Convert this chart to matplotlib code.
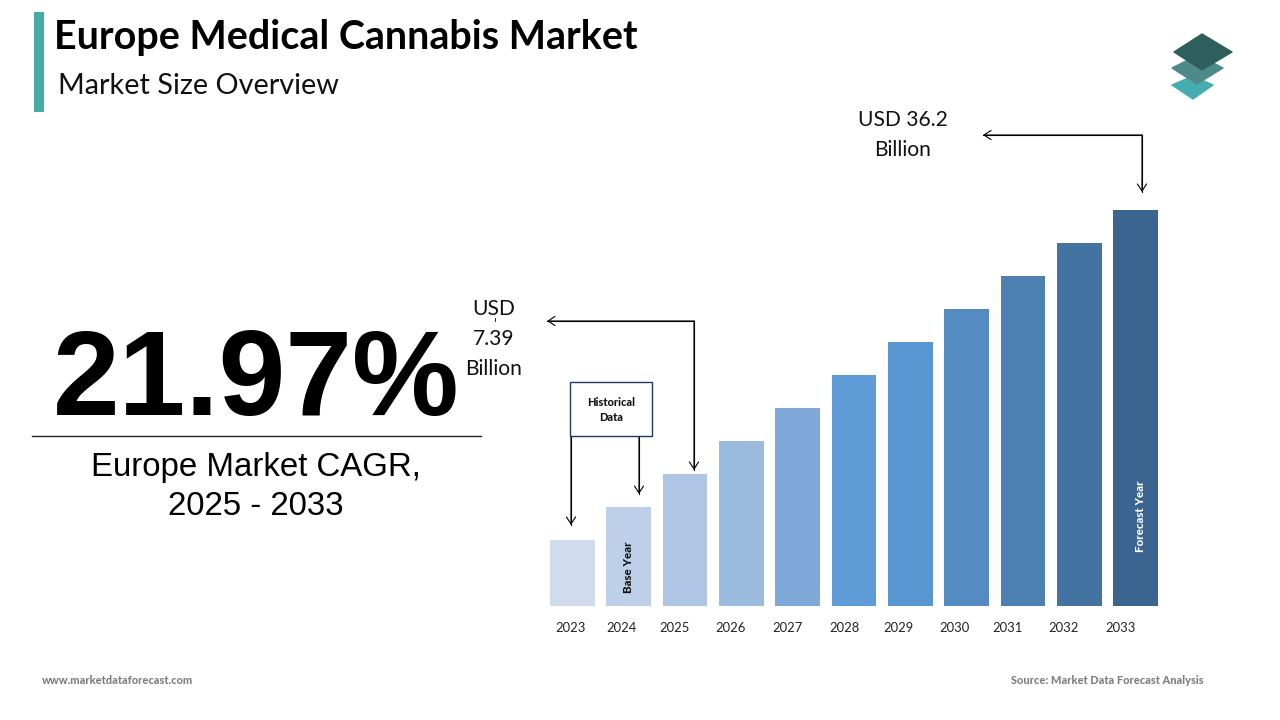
import matplotlib
matplotlib.use("Agg")
import matplotlib.pyplot as plt
from matplotlib.patches import Polygon, Rectangle, FancyArrowPatch
from matplotlib.lines import Line2D

years = ["2023", "2024", "2025", "2026", "2027", "2028", "2029", "2030", "2031", "2032", "2033"]
# Relative bar heights as drawn (the chart is illustrative, not to scale with the USD labels)
bar_heights = [66, 99, 132, 165, 198, 231, 264, 297, 330, 363, 396]
bar_colors = ["#d0dcee", "#bed0e9", "#aec6e4", "#9abade", "#7ea9d9", "#5f9bd6",
              "#5995d0", "#548bc0", "#4d81b1", "#4373a0", "#3b6590"]
year_label_x = [571, 621, 674, 731, 787, 844, 898, 954, 1008, 1064, 1121]
title = "Europe Medical Cannabis Market"
subtitle = "Market Size Overview"
cagr = "21.97%"
cagr_label = "Europe Market CAGR,\n2025 - 2033"

W, H = 1280, 720
fig = plt.figure(figsize=(12.8, 7.2), dpi=100, facecolor="white")
px = 0.72  # points per pixel

# Overlay in pixel coordinates
ov = fig.add_axes([0, 0, 1, 1], zorder=3)
ov.set_xlim(0, W); ov.set_ylim(H, 0); ov.axis("off"); ov.patch.set_alpha(0)

# Bars
x0, x1 = 550, 1158
ax = fig.add_axes([x0 / W, (H - 606) / H, (x1 - x0) / W, 400 / H], zorder=1)
xs = list(range(len(years)))
ax.bar(xs, bar_heights, width=0.79, color=bar_colors, linewidth=0)
ax.set_xlim(-0.395, 10.395)
ax.set_ylim(0, 400)
ax.axis("off")

for yr, cx in zip(years, year_label_x):
    ov.text(cx, 628, yr, ha="center", va="center",
            fontsize=13 * px, family="Lato", color="#222222")

# Header
ov.add_patch(Rectangle((34, 12), 10, 100, fc="#45ada8", ec="none"))
ov.text(54, 38, title, ha="left", va="center", fontsize=39.5 * px, family="Lato",
        fontweight="bold", color="black")
ov.text(58, 86, subtitle, ha="left", va="center", fontsize=28.9 * px, family="Lato", color="#111111")

# Logo
for pts, col in [([(1172, 85), (1193, 76), (1213, 85), (1193, 99)], "#45adb0"),
                 ([(1172, 68), (1198, 55), (1223, 68), (1197, 84)], "#4f8a8a"),
                 ([(1174, 52), (1202, 34), (1232, 52), (1202, 70)], "#2f5f5c")]:
    ov.add_patch(Polygon(pts, fc=col, ec=col, lw=1.0, joinstyle="round"))

# CAGR block
ov.text(256, 383, cagr, ha="center", va="center", fontsize=120 * px, family="Liberation Sans",
        fontweight="bold", color="black")
ov.add_line(Line2D([32, 481], [436, 436], color="#222222", lw=1))
ov.text(256, 487, cagr_label, ha="center", va="center", fontsize=33 * px, family="Liberation Sans",
        color="black", linespacing=1.36)

# Value labels
ov.text(903, 135, "USD 36.2\nBillion", ha="center", va="center", fontsize=21 * px, family="Lato",
        color="#111111", linespacing=1.6)
ov.text(494, 339, "USD\n7.39\nBillion", ha="center", va="center", fontsize=21 * px, family="Lato",
        color="#111111", linespacing=1.6)
ov.add_line(Line2D([494.5, 494.5], [318, 321], color="#333333", lw=0.7))

# Connectors
def head(p_from, p_to):
    ov.add_patch(FancyArrowPatch(p_from, p_to, arrowstyle="->,head_length=2.3,head_width=1.5",
                                 color="black", lw=0.8, shrinkA=0, shrinkB=0, mutation_scale=2.2))

def connector(points, both=False):
    xs_, ys_ = zip(*points)
    ov.add_line(Line2D(xs_, ys_, color="black", lw=0.8))
    head(points[-2], points[-1])
    if both:
        head(points[1], points[0])

connector([(983, 135), (1142, 135), (1142, 192)], both=True)
connector([(547, 321), (694, 321), (694, 470)], both=True)
connector([(571, 436), (571, 525)])
connector([(639, 436), (639, 494)])

# Historical data box
ov.add_patch(Rectangle((570, 382), 82, 54, fc="white", ec="#1f3a5a", lw=1, zorder=4))
ov.text(611, 410, "Historical\nData", ha="center", va="center", fontsize=11 * px, family="Lato",
        fontweight="black", color="#111111", linespacing=1.55, zorder=5)

# Rotated labels
ov.text(629, 567, "Base Year", rotation=90, ha="center", va="center", fontsize=11.5 * px,
        family="Lato", fontweight="black", color="#111111")
ov.text(1141, 516, "Forecast Year", rotation=90, ha="center", va="center", fontsize=11.5 * px,
        family="Lato", fontweight="black", color="white")

# Footer
ov.text(42, 680, "www.marketdataforecast.com", ha="left", va="center", fontsize=11 * px,
        family="Lato", fontweight="black", color="#7f7f7f")
ov.text(1204, 680, "Source: Market Data Forecast Analysis", ha="right", va="center", fontsize=11 * px,
        family="Lato", fontweight="black", color="#7f7f7f")

fig.savefig("out.png", dpi=100)
